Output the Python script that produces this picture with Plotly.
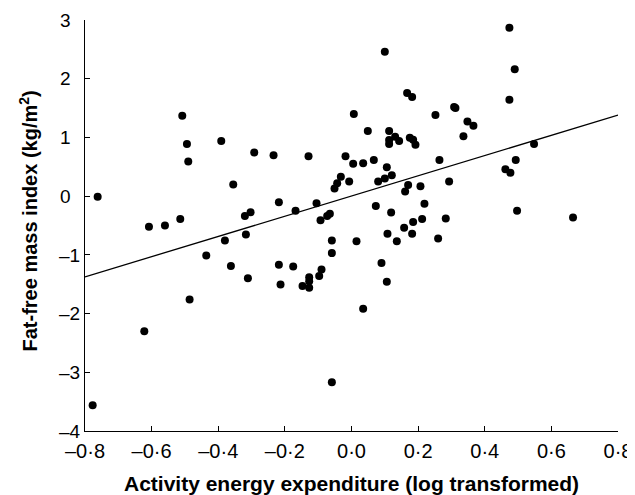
import plotly.graph_objects as go

aee = [-0.508, -0.494, -0.49, -0.391, -0.292, -0.355, -0.762,
       0.1, 0.167, 0.182, 0.007, 0.252, 0.049, 0.113, 0.131, 0.143, 0.113, 0.113,
       0.175, 0.185, 0.192, -0.234, -0.129, -0.018, 0.005, 0.035, 0.067, 0.106,
       0.264, -0.032, -0.043, -0.051, -0.007, 0.08, 0.1, 0.121, 0.17, 0.161,
       0.207, 0.293,
       0.474, 0.49, 0.474, 0.308, 0.312, 0.348, 0.366, 0.336, 0.548, 0.493,
       0.462, 0.477,
       -0.608, -0.56, -0.514, -0.32, -0.303, -0.317, -0.38, -0.436, -0.362,
       -0.311, -0.486, -0.622, -0.777,
       -0.218, -0.168, -0.105, -0.093, -0.073, -0.065, -0.059, -0.059, 0.015,
       0.073, 0.119, 0.108, 0.136, 0.158, 0.185, 0.212, 0.219, 0.182, 0.26,
       0.283, 0.09, 0.106, 0.035, -0.059, -0.218, -0.175, -0.213, -0.147,
       -0.127, -0.127, -0.127, -0.097, -0.09,
       0.497, 0.665]
ffmi = [1.37, 0.89, 0.59, 0.94, 0.745, 0.2, -0.01,
        2.46, 1.755, 1.69, 1.40, 1.38, 1.11, 1.11, 1.01, 0.94, 0.955, 0.89,
        0.995, 0.96, 0.876, 0.695, 0.68, 0.68, 0.55, 0.56, 0.615, 0.49,
        0.615, 0.33, 0.22, 0.13, 0.25, 0.25, 0.30, 0.355, 0.19, 0.08,
        0.17, 0.25,
        2.87, 2.16, 1.64, 1.52, 1.50, 1.27, 1.20, 1.02, 0.89, 0.615,
        0.46, 0.40,
        -0.52, -0.50, -0.39, -0.34, -0.275, -0.655, -0.757, -1.01, -1.19,
        -1.40, -1.76, -2.30, -3.56,
        -0.105, -0.25, -0.12, -0.41, -0.34, -0.30, -0.757, -0.97, -0.77,
        -0.17, -0.28, -0.64, -0.77, -0.54, -0.44, -0.39, -0.13, -0.64, -0.72,
        -0.38, -1.14, -1.46, -1.92, -3.17, -1.17, -1.20, -1.505, -1.53,
        -1.38, -1.45, -1.56, -1.36, -1.25,
        -0.25, -0.365]

fit_x = [-0.8, 0.8]
fit_y = [-1.375, 1.38]

x_ticks = [-0.8, -0.6, -0.4, -0.2, 0.0, 0.2, 0.4, 0.6, 0.8]
x_ticktext = ["–0·8", "–0·6", "–0·4", "–0·2", "0·0", "0·2", "0·4", "0·6", "0·8"]
y_ticks = [-4, -3, -2, -1, 0, 1, 2, 3]
y_ticktext = ["–4", "–3", "–2", "–1", "0\u2002", "1\u2002", "2\u2002", "3\u2002"]

x_title = "<b>Activity energy expenditure (log transformed)</b>"
y_title = "<b>Fat-free mass index (kg/m<sup>2</sup>)</b>"

fig = go.Figure()
fig.add_trace(go.Scatter(x=aee, y=ffmi, mode="markers",
                         marker=dict(color="black", size=8), showlegend=False))
fig.add_trace(go.Scatter(x=fit_x, y=fit_y, mode="lines",
                         line=dict(color="black", width=1.3), showlegend=False))

font = "Liberation Sans, Arial, sans-serif"
fig.update_layout(
    width=635, height=495,
    # page has an 8px body margin, so margins are shifted by -8px
    margin=dict(l=77, r=25, t=12, b=72),
    plot_bgcolor="white", paper_bgcolor="white",
    font=dict(family=font, color="black", size=18),
    xaxis=dict(range=[-0.8, 0.8], tickvals=x_ticks, ticktext=x_ticktext,
               ticks="inside", ticklen=5, tickwidth=1.3, tickcolor="black",
               showline=True, linecolor="black", linewidth=1.3,
               showgrid=False, zeroline=False, automargin=False,
               tickfont=dict(size=20), ticklabelstandoff=2),
    yaxis=dict(range=[-4, 3], tickvals=y_ticks, ticktext=y_ticktext,
               ticks="inside", ticklen=5, tickwidth=1.3, tickcolor="black",
               showline=True, linecolor="black", linewidth=1.3,
               showgrid=False, zeroline=False, automargin=False,
               tickfont=dict(size=19), ticklabelstandoff=0),
    annotations=[
        dict(text=x_title, xref="paper", yref="paper", x=0.5, y=0,
             xanchor="center", yanchor="middle", yshift=-52, showarrow=False,
             font=dict(size=21)),
        dict(text=y_title, xref="paper", yref="paper", x=0, y=0.5,
             xanchor="center", yanchor="middle", xshift=-57, yshift=4,
             textangle=-90, showarrow=False, font=dict(size=20)),
    ],
)
fig.write_html("out.html")
